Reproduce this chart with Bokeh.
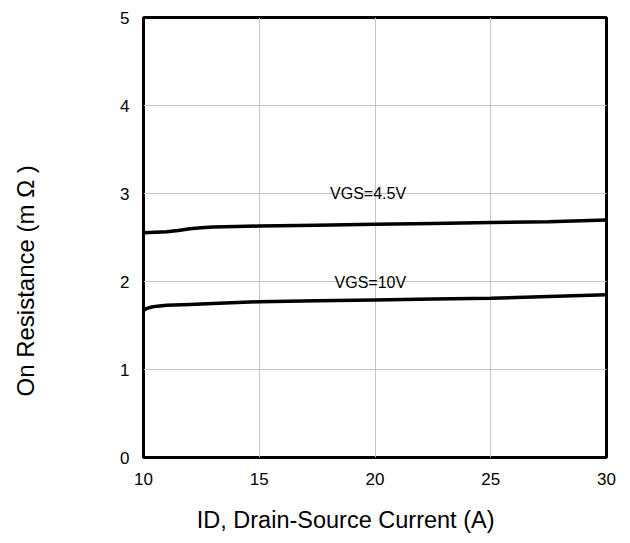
from bokeh.plotting import figure
from bokeh.models import Range1d, FixedTicker
from bokeh.core.properties import value
from bokeh.embed import file_html
from bokeh.resources import INLINE

# On-resistance versus drain current for two gate drives
id_45 = [10, 10.5, 11, 11.5, 12, 12.5, 13, 14, 15, 17.5, 20, 22.5, 25, 27.5, 30]
rds_45 = [2.555, 2.56, 2.565, 2.58, 2.60, 2.612, 2.62, 2.625, 2.63, 2.64, 2.65, 2.66, 2.67, 2.68, 2.70]

id_10 = [10, 10.15, 10.35, 10.6, 11, 12, 13, 15, 17.5, 20, 22.5, 25, 27.5, 30]
rds_10 = [1.675, 1.695, 1.71, 1.72, 1.73, 1.74, 1.75, 1.77, 1.78, 1.79, 1.80, 1.81, 1.83, 1.85]

curve_labels = ["VGS=4.5V", "VGS=10V"]
label_x = [19.7, 19.8]
label_y = [3.0, 1.99]

x_ticks = [10, 15, 20, 25, 30]
y_ticks = [0, 1, 2, 3, 4, 5]

# trailing no-break spaces pull each centred title towards the origin corner
NBSP = "\u00a0"
x_title = "ID, Drain-Source Current (A)" + NBSP * 9
y_title = "On Resistance (m Ω )" + NBSP * 13

FONT = "Liberation Sans, Arial, sans-serif"

p = figure(
    frame_width=463, frame_height=440,
    min_border_left=143, min_border_right=24,
    min_border_top=17, min_border_bottom=86,
    x_range=Range1d(10, 30), y_range=Range1d(0, 5),
    output_backend="svg", toolbar_location=None,
)
p.background_fill_color = "white"
p.border_fill_color = "white"
p.outline_line_color = "black"
p.outline_line_width = 3

p.xgrid.grid_line_color = "#c4c4c4"
p.ygrid.grid_line_color = "#c4c4c4"
p.xgrid.grid_line_width = 1
p.ygrid.grid_line_width = 1

p.xaxis.ticker = FixedTicker(ticks=x_ticks)
p.yaxis.ticker = FixedTicker(ticks=y_ticks)
for ax in (p.xaxis, p.yaxis):
    ax.axis_line_color = None
    ax.major_tick_line_color = None
    ax.minor_tick_line_color = None
    ax.major_tick_in = 0
    ax.major_tick_out = 0
    ax.major_label_text_font = FONT
    ax.major_label_text_font_size = "17px"
    ax.major_label_text_color = "black"
    ax.axis_label_text_font = FONT
    ax.axis_label_text_font_style = "normal"
    ax.axis_label_text_color = "black"

p.xaxis.major_label_standoff = 15
p.yaxis.major_label_standoff = 14

p.xaxis.axis_label = x_title
p.xaxis.axis_label_text_font_size = "23.5px"
p.xaxis.axis_label_standoff = 19

p.yaxis.axis_label = y_title
p.yaxis.axis_label_text_font_size = "24px"
p.yaxis.axis_label_standoff = 78

p.line(id_45, rds_45, line_color="black", line_width=3.5)
p.line(id_10, rds_10, line_color="black", line_width=3.5)

p.text(x=label_x, y=label_y, text=curve_labels,
       text_font=value(FONT), text_font_size="16px",
       text_color="black", text_align="center", text_baseline="middle")

open("out.html", "w").write(file_html(p, INLINE))
